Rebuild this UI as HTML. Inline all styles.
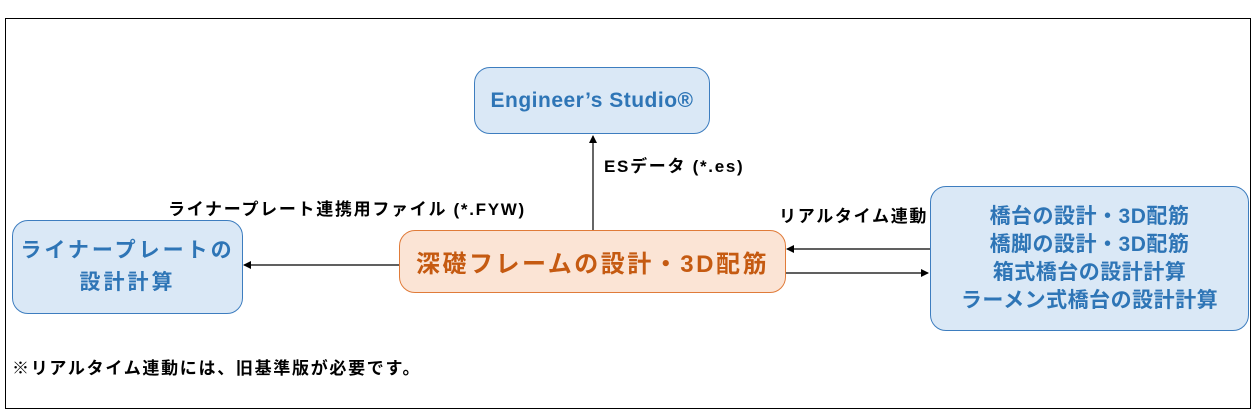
<!DOCTYPE html>
<html><head><meta charset="utf-8"><style>
body{margin:0;width:1259px;height:415px;background:#fff;position:relative;overflow:hidden;font-family:"Liberation Sans","Noto Sans CJK JP",sans-serif;font-weight:bold}
.b{position:absolute;box-sizing:border-box;display:flex;align-items:center;justify-content:center;text-align:center;border-radius:16px}
.blue{background:#dae8f6;border:1px solid #3d7dbf;color:#2e75b6}
.t{position:absolute;font-size:17px;color:#000;white-space:nowrap;letter-spacing:1.7px}
</style></head><body>
<div style="position:absolute;left:5px;top:18px;width:1246px;height:391px;border:1px solid #000;box-sizing:border-box"></div>
<div class="b blue" style="left:474px;top:67px;width:236px;height:67px;font-size:21px;letter-spacing:0.5px">Engineer’s Studio®</div>
<div class="b blue" style="left:12px;top:220px;width:231px;height:94px;font-size:21px;line-height:32px;letter-spacing:3px">ライナープレートの<br>設計計算</div>
<div class="b" style="left:399px;top:230px;width:387px;height:63px;background:#fbe4d5;border:1px solid #e07b39;color:#c55a11;font-size:24px;letter-spacing:2.5px">深礎フレームの設計・3D配筋</div>
<div class="b blue" style="left:930px;top:186px;width:319px;height:145px;font-size:21px;line-height:28px;letter-spacing:0.5px">橋台の設計・3D配筋<br>橋脚の設計・3D配筋<br>箱式橋台の設計計算<br>ラーメン式橋台の設計計算</div>
<svg style="position:absolute;left:0;top:0" width="1259" height="415">
<defs><marker id="a" markerWidth="8" markerHeight="8" refX="7" refY="4" orient="auto" markerUnits="userSpaceOnUse"><path d="M0,0 L8,4 L0,8 Z" fill="#000"/></marker></defs>
<g stroke="#000" stroke-width="1.2">
<line x1="593" y1="230" x2="593" y2="136" marker-end="url(#a)"/>
<line x1="399" y1="265" x2="244" y2="265" marker-end="url(#a)"/>
<line x1="930" y1="249" x2="787" y2="249" marker-end="url(#a)"/>
<line x1="786" y1="273" x2="928" y2="273" marker-end="url(#a)"/>
</g></svg>
<div class="t" style="left:604px;top:152px">ESデータ (*.es)</div>
<div class="t" style="left:168px;top:195px">ライナープレート連携用ファイル (*.FYW)</div>
<div class="t" style="left:779px;top:202px">リアルタイム連動</div>
<div class="t" style="left:12px;top:354px">※リアルタイム連動には、旧基準版が必要です。</div>
</body></html>
